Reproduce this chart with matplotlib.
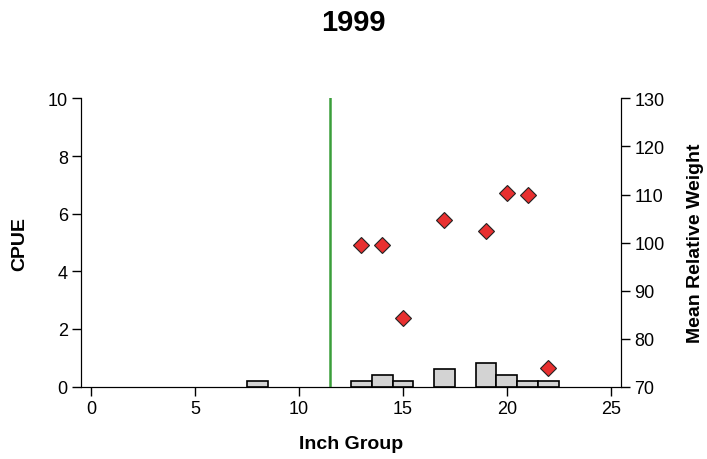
import matplotlib
matplotlib.use('Agg')
import matplotlib.pyplot as plt

plt.rcParams['font.family'] = ['Liberation Sans', 'DejaVu Sans']

# CPUE by inch group (bars)
inch_groups = [8, 13, 14, 15, 17, 19, 20, 21, 22]
cpue = [0.2, 0.2, 0.4, 0.2, 0.6, 0.8, 0.4, 0.2, 0.2]

# Mean relative weight (diamonds, right axis)
wr_groups = [13, 14, 15, 17, 19, 20, 21, 22]
wr_values = [99.5, 99.5, 84.3, 104.7, 102.3, 110.3, 109.9, 73.9]

# minimum length limit line
limit = 11.5

fig = plt.figure(figsize=(7.07, 4.60), dpi=100)
ax = fig.add_axes([0.1146, 0.1576, 0.7638, 0.6261])

ax.bar(inch_groups, cpue, width=1.0, color='#d3d3d3', edgecolor='black', linewidth=1.2, zorder=2)
ax.axvline(limit, color='#3a9e3a', linewidth=1.8, zorder=3)

ax.set_xlim(-0.5, 25.5)
ax.set_ylim(0, 10)
ax.set_xticks([0, 5, 10, 15, 20, 25])
ax.set_yticks([0, 2, 4, 6, 8, 10])
ax.tick_params(direction='out', length=6.5, width=1, pad=3, labelsize=13, colors='black')
ax.spines['top'].set_visible(False)
ax.set_xlabel('Inch Group', fontsize=14, fontweight='bold', labelpad=13)
ax.set_ylabel('CPUE', fontsize=14, fontweight='bold', labelpad=14)

ax2 = ax.twinx()
ax2.plot(wr_groups, wr_values, linestyle='none', marker='D', markersize=8.5,
         markerfacecolor='#e83030', markeredgecolor='#222222', markeredgewidth=0.8, zorder=4)
ax2.set_ylim(70, 130)
ax2.set_yticks([70, 80, 90, 100, 110, 120, 130])
ax2.tick_params(direction='out', length=6.5, width=1, pad=3, labelsize=13)
ax2.spines['top'].set_visible(False)
ax2.set_ylabel('Mean Relative Weight', fontsize=14, fontweight='bold', labelpad=16)

fig.text(0.5, 0.951, '1999', fontsize=21, fontweight='bold', ha='center', va='center')

fig.savefig('out.png', dpi=100)
